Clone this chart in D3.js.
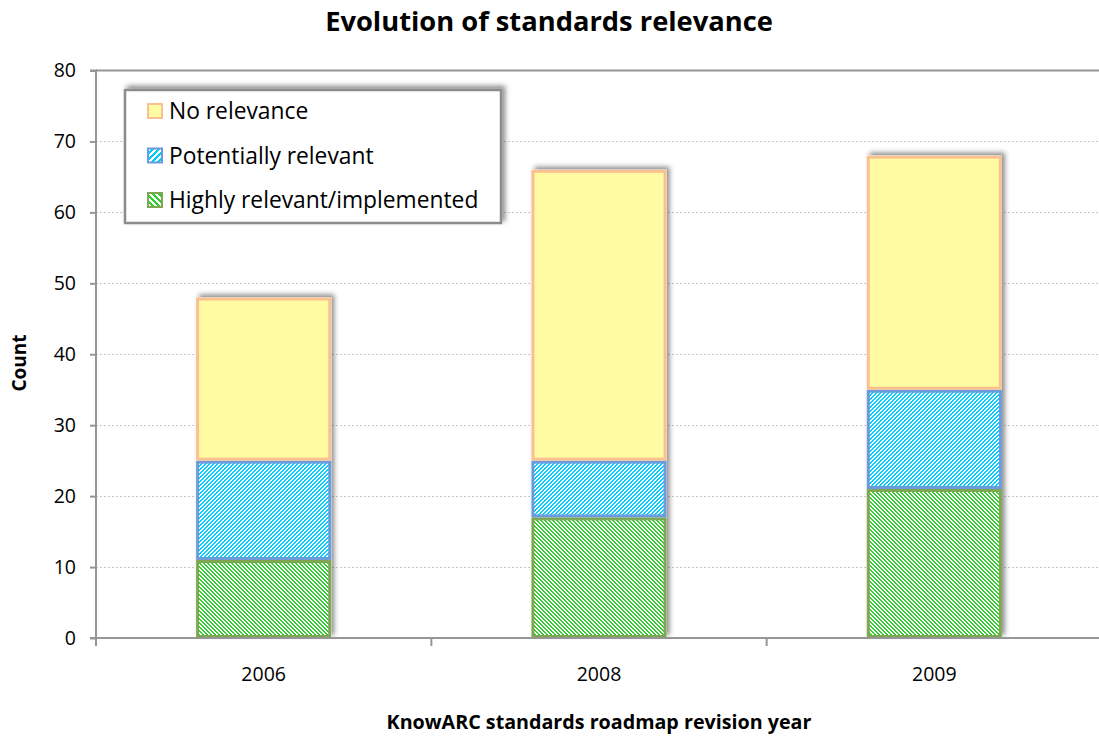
<!DOCTYPE html>
<html><head><meta charset="utf-8">
<script src="https://cdn.jsdelivr.net/npm/d3@7/dist/d3.min.js"></script>
<style>
body{margin:0;background:#fff;}
svg{display:block;font-family:"Open Sans",Lato,sans-serif;}
</style></head>
<body><svg id="c" width="1099" height="736"></svg>
<script>
const categories = ["2006", "2008", "2009"];
const seriesNames = ["Highly relevant/implemented", "Potentially relevant", "No relevance"];
const highly = [11, 17, 21];
const potentially = [14, 8, 14];
const noRelevance = [23, 41, 33];
const yTicks = [0, 10, 20, 30, 40, 50, 60, 70, 80];

(function () {
const svg = d3.select("#c");
const W = 1099, H = 736;
const mLeft = 96, mRight = 1102, mTop = 70.5, mBottom = 638;
const FONT = "Open Sans";

const defs = svg.append("defs");
function hatch(id, color, up, size) {
  const p = defs.append("pattern").attr("id", id).attr("patternUnits", "userSpaceOnUse")
    .attr("width", size).attr("height", size);
  p.append("rect").attr("width", size).attr("height", size).attr("fill", "#fff");
  const half = size / 2;
  for (let x = 0; x < size; x++) for (let y = 0; y < size; y++) {
    const v = up ? (x + y) % size : ((x - y) % size + size) % size;
    if (v < half) p.append("rect").attr("x", x).attr("y", y).attr("width", 1).attr("height", 1)
      .attr("fill", color).attr("shape-rendering", "crispEdges");
  }
}
hatch("hBlue", "#00CCFF", true, 4);
hatch("hGreen", "#33CC33", false, 4);
hatch("hBlueL", "#00CCFF", true, 6);
hatch("hGreenL", "#33CC33", false, 6);
const f = defs.append("filter").attr("id", "sh").attr("x", "-20%").attr("y", "-20%").attr("width", "140%").attr("height", "140%");
f.append("feDropShadow").attr("dx", 3).attr("dy", -3).attr("stdDeviation", 2.5).attr("flood-color", "#000").attr("flood-opacity", 0.45);

const styles = [
  {fill: "url(#hGreen)", legendFill: "url(#hGreenL)", stroke: "#7FA650"},
  {fill: "url(#hBlue)", legendFill: "url(#hBlueL)", stroke: "#6A9BDA"},
  {fill: "#FFFBA3", legendFill: "#FFFBA3", stroke: "#FAC090"}
];

const x = d3.scaleBand().domain(categories).range([mLeft, mRight]).padding(0);
const y = d3.scaleLinear().domain([0, 80]).range([mBottom, mTop]);
const barW = x.bandwidth() * 0.403;

// gridlines
svg.append("g").selectAll("line").data(yTicks.filter(d => d > 0 && d < 80)).join("line")
  .attr("x1", mLeft).attr("x2", W).attr("y1", d => Math.round(y(d)) + 0.5).attr("y2", d => Math.round(y(d)) + 0.5)
  .attr("stroke", "#c8c8c8").attr("stroke-width", 1).attr("stroke-dasharray", "2,2");
svg.append("line").attr("x1", mLeft).attr("x2", W).attr("y1", y(80)).attr("y2", y(80))
  .attr("stroke", "#969696").attr("stroke-width", 2);

// bars
const stackData = categories.map((c, i) => ({cat: c, "0": highly[i], "1": potentially[i], "2": noRelevance[i]}));
const stack = d3.stack().keys(["0", "1", "2"])(stackData);
const gBars = svg.append("g");
gBars.selectAll("rect.shadow").data(stackData).join("rect")
  .attr("x", d => x(d.cat) + (x.bandwidth() - barW) / 2)
  .attr("y", (d, i) => y(highly[i] + potentially[i] + noRelevance[i]))
  .attr("width", barW)
  .attr("height", (d, i) => y(0) - y(highly[i] + potentially[i] + noRelevance[i]))
  .attr("fill", "#fff").attr("filter", "url(#sh)");
stack.forEach((layer, k) => {
  gBars.append("g").selectAll("rect").data(layer).join("rect")
    .attr("x", d => x(d.data.cat) + (x.bandwidth() - barW) / 2 + 1.5)
    .attr("y", d => y(d[1]) + 1.5)
    .attr("width", barW - 3)
    .attr("height", d => y(d[0]) - y(d[1]) - 3)
    .attr("fill", styles[k].fill).attr("stroke", styles[k].stroke).attr("stroke-width", 3);
});

// axes
const yAxis = svg.append("g").attr("transform", `translate(${mLeft},0)`)
  .call(d3.axisLeft(y).tickValues(yTicks).tickSize(6).tickPadding(14));
yAxis.select(".domain").attr("stroke", "#969696").attr("stroke-width", 2).attr("d", `M-6,${y(80)}H0V${mBottom}`);
yAxis.selectAll(".tick line").attr("stroke", "#969696").attr("stroke-width", 2);
yAxis.selectAll("text").attr("font-size", 19.5).attr("fill", "#000").attr("font-family", FONT);

const xAxis = svg.append("g").attr("transform", `translate(0,${mBottom})`)
  .call(d3.axisBottom(x).tickSize(0).tickPadding(29));
xAxis.select(".domain").attr("stroke", "#969696").attr("stroke-width", 2).attr("d", `M${mLeft - 6},0H${W}`);
xAxis.selectAll("text").attr("font-size", 19.5).attr("fill", "#000").attr("font-family", FONT);
svg.append("g").selectAll("line").data(categories).join("line")
  .attr("x1", d => x(d)).attr("x2", d => x(d)).attr("y1", mBottom).attr("y2", mBottom + 8)
  .attr("stroke", "#969696").attr("stroke-width", 2);

// titles
svg.append("text").attr("x", 549).attr("y", 31).attr("text-anchor", "middle")
  .attr("font-size", 27.3).attr("font-weight", "bold").text("Evolution of standards relevance");
svg.append("text").attr("x", 599).attr("y", 729).attr("text-anchor", "middle")
  .attr("font-size", 19.7).attr("font-weight", "bold").text("KnowARC standards roadmap revision year");
svg.append("text").attr("transform", "translate(26,363) rotate(-90)").attr("text-anchor", "middle")
  .attr("font-size", 19).attr("font-weight", "bold").text("Count");

// legend
const lg = svg.append("g");
lg.append("rect").attr("x", 125).attr("y", 90).attr("width", 376).attr("height", 133)
  .attr("fill", "#fff").attr("stroke", "#8c8c8c").attr("stroke-width", 2.5).attr("filter", "url(#sh)");
const legendOrder = [2, 1, 0];
legendOrder.forEach((k, i) => {
  const cy = 111 + i * 44.5;
  lg.append("rect").attr("x", 148).attr("y", cy - 7).attr("width", 14).attr("height", 14)
    .attr("fill", styles[k].legendFill).attr("stroke", styles[k].stroke).attr("stroke-width", 2);
  lg.append("text").attr("x", 169).attr("y", cy + 8).attr("font-size", 22.8).attr("fill", "#000")
    .text(seriesNames[k]);
});
})();
</script></body></html>
